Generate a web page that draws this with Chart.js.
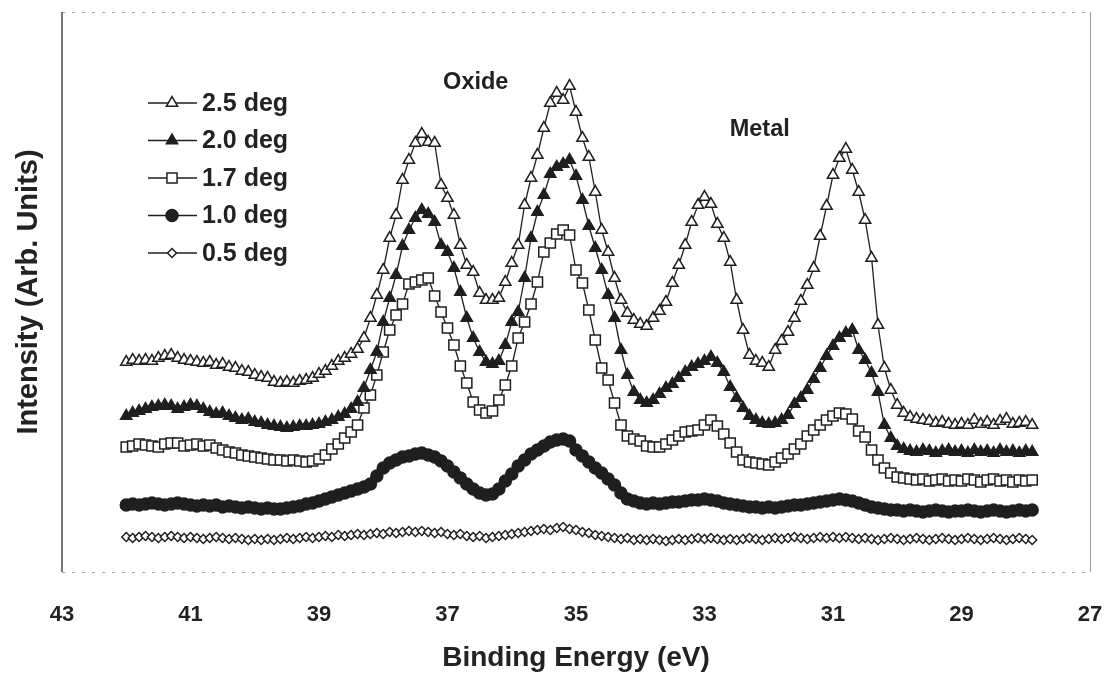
<!DOCTYPE html>
<html>
<head>
<meta charset="utf-8">
<script src="https://cdn.jsdelivr.net/npm/chart.js@4.4.1/dist/chart.umd.min.js"></script>
<style>
  body { margin: 0; background: #fff; }
</style>
</head>
<body>
<canvas id="xps" width="1115" height="683"></canvas>
<script>
// binding energy (eV), one reading every 0.1 eV
const energy = [
  42.0,41.9,41.8,41.7,41.6,41.5,41.4,41.3,41.2,41.1,
  41.0,40.9,40.8,40.7,40.6,40.5,40.4,40.3,40.2,40.1,
  40.0,39.9,39.8,39.7,39.6,39.5,39.4,39.3,39.2,39.1,
  39.0,38.9,38.8,38.7,38.6,38.5,38.4,38.3,38.2,38.1,
  38.0,37.9,37.8,37.7,37.6,37.5,37.4,37.3,37.2,37.1,
  37.0,36.9,36.8,36.7,36.6,36.5,36.4,36.3,36.2,36.1,
  36.0,35.9,35.8,35.7,35.6,35.5,35.4,35.3,35.2,35.1,
  35.0,34.9,34.8,34.7,34.6,34.5,34.4,34.3,34.2,34.1,
  34.0,33.9,33.8,33.7,33.6,33.5,33.4,33.3,33.2,33.1,
  33.0,32.9,32.8,32.7,32.6,32.5,32.4,32.3,32.2,32.1,
  32.0,31.9,31.8,31.7,31.6,31.5,31.4,31.3,31.2,31.1,
  31.0,30.9,30.8,30.7,30.6,30.5,30.4,30.3,30.2,30.1,
  30.0,29.9,29.8,29.7,29.6,29.5,29.4,29.3,29.2,29.1,
  29.0,28.9,28.8,28.7,28.6,28.5,28.4,28.3,28.2,28.1,
  28.0,27.9
];

// intensity (arb. units), offset spectra
const deg25 = [
  238,240,239,240,239,242,244,245,242,240,
  239,238,237,238,235,236,233,232,229,228,
  225,223,222,218,217,218,217,219,220,222,
  226,229,234,239,242,246,251,262,282,305,
  330,362,385,420,440,457,466,458,457,415,
  402,385,355,335,328,307,300,300,302,318,
  337,355,395,422,445,472,497,507,500,514,
  488,462,443,408,370,348,322,300,287,280,
  276,274,282,289,298,317,335,355,378,395,
  403,396,376,362,338,300,270,245,239,237,
  233,250,259,268,282,299,315,332,364,394,
  425,442,451,430,408,380,342,275,232,210,
  195,187,183,181,180,179,177,178,176,175,
  176,175,180,176,178,175,179,181,176,177,
  178,175
];
const deg20 = [
  184,187,189,191,193,194,195,194,191,193,
  195,194,191,188,186,187,184,182,180,181,
  178,177,175,174,173,172,173,174,174,175,
  176,178,180,183,186,191,198,212,230,248,
  278,302,325,354,370,382,390,386,378,355,
  348,332,308,282,262,248,238,236,239,255,
  278,288,322,362,388,405,426,433,436,440,
  424,400,374,352,330,305,282,250,225,208,
  200,197,200,206,212,216,222,228,233,236,
  239,243,237,228,213,202,192,184,180,177,
  176,177,180,185,196,202,210,221,232,244,
  254,262,267,270,250,240,227,208,175,162,
  154,151,149,148,150,149,147,149,150,148,
  149,147,150,148,149,147,150,148,149,147,
  149,148
];
const deg17 = [
  153,154,156,155,154,153,156,157,157,154,
  155,156,154,155,152,150,148,147,145,144,
  143,142,141,140,140,139,140,139,138,139,
  141,145,151,156,162,168,175,192,205,225,
  248,270,285,296,316,318,320,322,304,288,
  272,255,234,217,198,190,187,189,200,215,
  234,262,278,296,318,348,357,366,370,365,
  330,317,290,260,232,220,197,175,164,161,
  159,154,153,153,156,160,164,168,169,170,
  175,180,174,166,157,148,140,138,137,136,
  135,138,142,146,151,156,164,170,175,180,
  184,187,186,181,169,163,150,140,132,127,
  123,122,121,120,121,119,120,121,119,120,
  119,121,120,118,120,121,119,120,118,120,
  119,120
];
const deg10 = [
  95,96,95,96,97,96,95,96,97,96,
  95,94,95,94,95,93,94,93,92,93,
  92,91,92,91,91,92,93,94,96,97,
  99,101,103,105,107,109,111,113,116,124,
  132,137,140,143,144,146,147,145,143,139,
  134,128,122,116,111,107,105,106,111,119,
  126,134,140,146,150,154,158,160,161,159,
  150,144,138,132,127,121,115,107,101,99,
  97,96,97,96,97,98,98,99,100,100,
  101,100,99,97,96,95,94,93,93,92,
  93,92,93,94,95,95,96,97,98,99,
  100,101,100,99,97,95,93,92,91,90,
  90,89,90,89,88,89,90,89,88,89,
  89,90,89,88,89,90,89,88,89,90,
  89,90
];
const deg05 = [
  63,62,63,64,63,62,63,64,63,62,
  63,62,61,62,63,62,61,62,61,60,
  61,60,61,60,61,62,61,62,63,62,
  63,64,63,65,64,65,66,65,66,67,
  66,68,67,68,69,68,69,68,67,68,
  66,65,66,64,63,64,62,63,64,65,
  66,67,68,69,70,71,70,72,73,71,
  70,68,67,65,64,63,62,61,62,60,
  61,60,61,60,59,60,61,60,61,62,
  61,62,61,60,61,60,61,62,61,60,
  61,62,61,62,63,62,61,62,63,62,
  63,62,63,62,61,62,61,60,61,62,
  61,60,61,62,61,60,61,62,61,60,
  61,62,61,60,61,62,61,60,61,62,
  61,60
];

const seriesNames = ['2.5 deg', '2.0 deg', '1.7 deg', '1.0 deg', '0.5 deg'];
const seriesValues = [deg25, deg20, deg17, deg10, deg05];
const xTicks = [43, 41, 39, 37, 35, 33, 31, 29, 27];

// peak labels placed in data coordinates
const notes = [
  { text: 'Oxide', x: 36.56, y: 517 },
  { text: 'Metal', x: 32.14, y: 470 }
];

const ink = '#1f1f1f';
const fontFamily = 'Arial, "Liberation Sans", sans-serif';
const markers = [
  { style: 'triangle', radius: 6.5, fill: '#ffffff' },
  { style: 'triangle', radius: 6.5, fill: ink },
  { style: 'rect', radius: 7.2, fill: '#ffffff' },
  { style: 'circle', radius: 6, fill: ink },
  { style: 'rectRot', radius: 4.5, fill: '#ffffff' }
];

const datasets = seriesNames.map((name, i) => ({
  label: name,
  data: energy.map((e, j) => ({ x: e, y: seriesValues[i][j] })),
  borderColor: ink,
  borderWidth: 1.3,
  pointStyle: markers[i].style,
  pointRadius: markers[i].radius,
  pointBackgroundColor: markers[i].fill,
  pointBorderColor: ink,
  pointBorderWidth: 1.5,
  tension: 0
}));

const frame = {
  id: 'frame',
  beforeDatasetsDraw(chart) {
    const { ctx, chartArea: a } = chart;
    ctx.save();
    ctx.strokeStyle = '#a8a8a8';
    ctx.lineWidth = 1;
    ctx.setLineDash([3, 7]);
    ctx.beginPath();
    ctx.moveTo(a.left, a.top + 0.5); ctx.lineTo(a.right, a.top + 0.5);
    ctx.moveTo(a.left, a.bottom + 0.5); ctx.lineTo(a.right, a.bottom + 0.5);
    ctx.stroke();
    ctx.setLineDash([]);
    ctx.strokeStyle = '#9a9a9a';
    ctx.beginPath();
    ctx.moveTo(a.right + 0.5, a.top); ctx.lineTo(a.right + 0.5, a.bottom);
    ctx.stroke();
    ctx.strokeStyle = '#555';
    ctx.lineWidth = 1.6;
    ctx.beginPath();
    ctx.moveTo(a.left, a.top); ctx.lineTo(a.left, a.bottom);
    ctx.stroke();
    ctx.restore();
  }
};

const legendBox = {
  id: 'legendBox',
  afterDatasetsDraw(chart) {
    const { ctx, chartArea: a, scales } = chart;
    ctx.save();
    chart.data.datasets.forEach((ds, i) => {
      const y = a.top + 91 + i * 37.5;
      const x0 = a.left + 86;
      ctx.strokeStyle = ink;
      ctx.lineWidth = 1.3;
      ctx.beginPath();
      ctx.moveTo(x0, y); ctx.lineTo(x0 + 49, y);
      ctx.stroke();
      ctx.fillStyle = ds.pointBackgroundColor;
      ctx.strokeStyle = ink;
      ctx.lineWidth = ds.pointBorderWidth;
      Chart.helpers.drawPoint(ctx, {
        pointStyle: ds.pointStyle, radius: ds.pointRadius,
        borderWidth: ds.pointBorderWidth, rotation: 0
      }, x0 + 24, y);
      ctx.fillStyle = '#222';
      ctx.font = 'bold 25px ' + fontFamily;
      ctx.textAlign = 'left';
      ctx.textBaseline = 'middle';
      ctx.fillText(ds.label, x0 + 54, y + 1);
    });
    ctx.font = 'bold 23.5px ' + fontFamily;
    ctx.textAlign = 'center';
    ctx.fillStyle = '#222';
    notes.forEach(n => {
      ctx.fillText(n.text, scales.x.getPixelForValue(n.x), scales.y.getPixelForValue(n.y));
    });
    ctx.restore();
  }
};

new Chart(document.getElementById('xps'), {
  type: 'line',
  data: { datasets },
  options: {
    responsive: false,
    animation: false,
    layout: { padding: { left: 10, right: 25, top: 12, bottom: 0 } },
    plugins: { legend: { display: false }, tooltip: { enabled: false } },
    scales: {
      x: {
        type: 'linear',
        reverse: true,
        min: 27,
        max: 43,
        afterBuildTicks(scale) { scale.ticks = xTicks.map(v => ({ value: v })); },
        afterFit(scale) {
          scale.height = 111;
          scale.paddingLeft = 0;
          scale.paddingRight = 0;
        },
        grid: { display: false, drawTicks: false },
        border: { display: false },
        ticks: {
          padding: 30,
          color: '#222',
          font: { family: fontFamily, size: 22, weight: 'bold' }
        },
        title: {
          display: true,
          text: 'Binding Energy (eV)',
          color: '#222',
          padding: { top: 4, bottom: 8 },
          font: { family: fontFamily, size: 28, weight: 'bold' }
        }
      },
      y: {
        min: 28,
        max: 588,
        afterFit(scale) { scale.width = 52; },
        grid: { display: false, drawTicks: false },
        border: { display: false },
        ticks: { display: false },
        title: {
          display: true,
          text: 'Intensity (Arb. Units)',
          color: '#222',
          padding: { top: 2, bottom: 4 },
          font: { family: fontFamily, size: 29, weight: 'bold' }
        }
      }
    }
  },
  plugins: [frame, legendBox]
});
</script>
</body>
</html>
